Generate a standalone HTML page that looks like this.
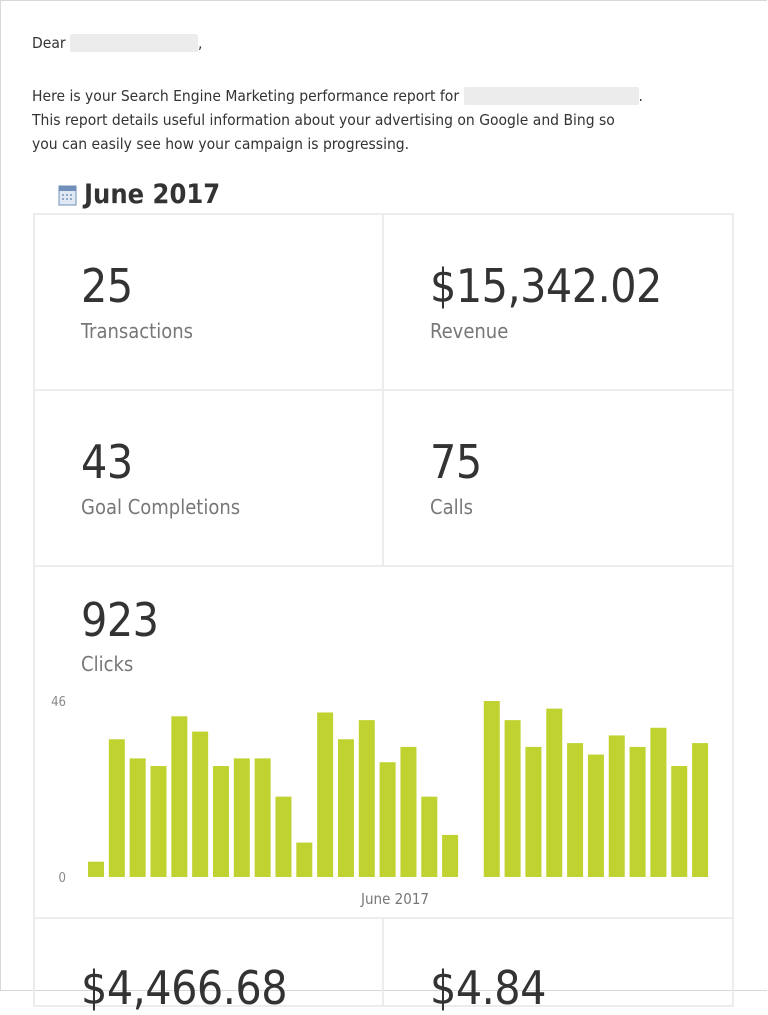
<!DOCTYPE html>
<html><head><meta charset="utf-8"><style>
body{margin:0;width:768px;height:991px;overflow:hidden;background:#fff;font-family:"DejaVu Sans Condensed","DejaVu Sans","Liberation Sans",sans-serif;color:#333;position:relative}
.frame{position:absolute;left:0;top:0;width:766px;height:989px;border:1px solid #d8d8d8;border-right:none}
.t{position:absolute;font-size:15.5px;color:#333;white-space:nowrap}
.blur{display:inline-block;background:#ececec;height:18px;vertical-align:-4px;border-radius:2px}
.cell{position:absolute;border:2px solid #ececec;box-sizing:border-box}
.num{position:absolute;left:46px;font-size:46px;color:#333;letter-spacing:-0.5px}
.lbl{position:absolute;left:46px;font-size:20px;color:#777}
</style></head><body>
<div class="frame"></div>
<div class="t" style="left:32px;top:34px">Dear <span class="blur" style="width:128px"></span>,</div>
<div class="t" style="left:32px;top:84px;line-height:24px">Here is your Search Engine Marketing performance report for <span class="blur" style="width:175px"></span>.<br>This report details useful information about your advertising on Google and Bing so<br>you can easily see how your campaign is progressing.</div>
<svg style="position:absolute;left:58px;top:183px" width="20" height="24"><rect x="1" y="3" width="17" height="19" fill="#dfe8f3" stroke="#6f8fb8"/><rect x="1" y="3" width="17" height="5" fill="#6f8fb8"/><g fill="#8fa9c9"><rect x="4" y="11" width="2" height="2"/><rect x="8" y="11" width="2" height="2"/><rect x="12" y="11" width="2" height="2"/><rect x="4" y="15" width="2" height="2"/><rect x="8" y="15" width="2" height="2"/><rect x="12" y="15" width="2" height="2"/></g></svg>
<div class="t" style="left:84px;top:179px;font-size:27px;font-weight:bold;color:#333">June 2017</div>

<div class="cell" style="left:33px;top:213px;width:351px;height:178px"><div class="num" style="top:44px">25</div><div class="lbl" style="top:104px">Transactions</div></div>
<div class="cell" style="left:382px;top:213px;width:352px;height:178px"><div class="num" style="top:44px">$15,342.02</div><div class="lbl" style="top:104px">Revenue</div></div>
<div class="cell" style="left:33px;top:389px;width:351px;height:178px"><div class="num" style="top:44px">43</div><div class="lbl" style="top:104px">Goal Completions</div></div>
<div class="cell" style="left:382px;top:389px;width:352px;height:178px"><div class="num" style="top:44px">75</div><div class="lbl" style="top:104px">Calls</div></div>
<div class="cell" style="left:33px;top:565px;width:701px;height:354px"><div class="num" style="top:26px">923</div><div class="lbl" style="top:85px">Clicks</div></div>
<div class="cell" style="left:33px;top:917px;width:351px;height:90px"><div class="num" style="top:42px">$4,466.68</div></div>
<div class="cell" style="left:382px;top:917px;width:352px;height:90px"><div class="num" style="top:42px">$4.84</div></div>

<svg id="chart" style="position:absolute;left:0;top:0" width="768" height="991"></svg>
<script>
const days=[1,2,3,4,5,6,7,8,9,10,11,12,13,14,15,16,17,18,19,20,21,22,23,24,25,26,27,28,29,30];
const clicks=[4,36,31,29,42,38,29,31,31,21,9,43,36,41,30,34,21,11,0,46,41,34,44,35,32,37,34,39,29,35];
const yTicks=["0","46"];
const yMax=46;
const svg=document.getElementById('chart');
const NS='http://www.w3.org/2000/svg';
const x0=88,step=20.83,bw=16,yb=877,yt=701;
const y=v=>yb-(v/yMax)*(yb-yt);
const x=i=>x0+i*step;
clicks.forEach((v,i)=>{if(v<=0)return;const r=document.createElementNS(NS,'rect');
r.setAttribute('x',x(i));r.setAttribute('y',y(v));r.setAttribute('width',bw);r.setAttribute('height',yb-y(v));r.setAttribute('fill','#bfd230');


svg.appendChild(r);});
yTicks.forEach(t=>{const tx=document.createElementNS(NS,'text');
tx.setAttribute('x',66);tx.setAttribute('y',y(+t)+5);tx.setAttribute('text-anchor','end');tx.setAttribute('font-size','13');tx.setAttribute('fill','#888');tx.setAttribute('font-family','DejaVu Sans Condensed, DejaVu Sans, sans-serif');tx.textContent=t;


svg.appendChild(tx);});
const xl=document.createElementNS(NS,'text');
xl.setAttribute('x',395);xl.setAttribute('y',904);xl.setAttribute('text-anchor','middle');xl.setAttribute('font-size','15');xl.setAttribute('fill','#777');xl.setAttribute('font-family','DejaVu Sans Condensed, DejaVu Sans, sans-serif');xl.textContent='June 2017';


svg.appendChild(xl);
</script>
</body></html>
